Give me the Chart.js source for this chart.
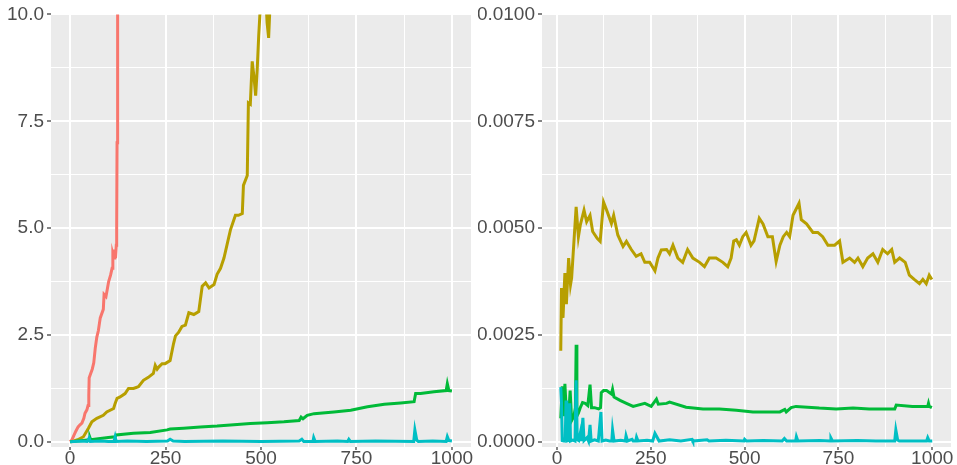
<!DOCTYPE html>
<html>
<head>
<meta charset="utf-8">
<script src="https://cdn.jsdelivr.net/npm/chart.js@4.4.1/dist/chart.umd.min.js"></script>
<style>
  html, body { margin: 0; padding: 0; background: #fff; }
  .panel { position: absolute; top: 0; height: 465px; }
  #leftBox { left: 0; width: 478px; }
  #rightBox { left: 478px; width: 479px; }
</style>
</head>
<body>
<div id="leftBox" class="panel"><canvas id="leftChart"></canvas></div>
<div id="rightBox" class="panel"><canvas id="rightChart"></canvas></div>
<script>
// colours (ggplot hue palette)
var colRed = '#F8766D', colOlive = '#B79F00', colGreen = '#00BA38', colCyan = '#00BFC4';

// tick values
var xTicks = [0, 125, 250, 375, 500, 625, 750, 875, 1000];
var leftYTicks = [0, 1.25, 2.5, 3.75, 5, 6.25, 7.5, 8.75, 10];
var rightYTicks = [0, 0.00125, 0.0025, 0.00375, 0.005, 0.00625, 0.0075, 0.00875, 0.01];

// left panel series [x, y]
var leftRed = [[0,0],[5,0.05],[10,0.15],[15,0.25],[21,0.35],[26,0.4],[31,0.44],[36,0.55],[39,0.67],[44,0.75],[47,0.85],[49,1.1],[50,1.5],[54,1.6],[58,1.7],[62,1.85],[66,2.2],[70,2.45],[74,2.6],[79,2.9],[83,3.0],[87,3.1],[89,3.45],[94,3.4],[98,3.6],[101,3.75],[106,3.9],[110,4.06],[112,4.4],[115,4.3],[117,4.5],[119,4.3],[121,4.6],[122,5.0],[123,7],[124,9.9],[125,10.5],[127,12]];
var leftOlive = [[0,0],[10,0.02],[20,0.05],[35,0.12],[48,0.32],[57,0.47],[70,0.55],[87,0.62],[96,0.7],[114,0.78],[118,0.9],[123,1.02],[131,1.05],[144,1.13],[153,1.25],[166,1.25],[179,1.29],[192,1.44],[205,1.51],[218,1.6],[223,1.79],[228,1.7],[232,1.75],[241,1.83],[249,1.83],[262,1.9],[271,2.3],[276,2.48],[284,2.56],[293,2.7],[302,2.73],[311,3.02],[324,2.98],[337,3.05],[346,3.64],[355,3.72],[364,3.6],[377,3.68],[385,3.92],[394,4.06],[403,4.3],[412,4.65],[420,4.96],[433,5.3],[441,5.3],[451,5.34],[454,6.0],[464,6.23],[467,7.93],[472,7.9],[477,8.9],[482,8.5],[486,8.1],[490,8.7],[494,9.5],[499,10.3],[505,11],[512,10.5],[516,9.8],[520,9.45],[525,10.5],[530,11.5]];
var leftGreen = [[0,0],[20,0.02],[40,0.04],[50,0.05],[52,0.1],[54,0.05],[79,0.08],[100,0.1],[118,0.12],[121,0.16],[166,0.2],[210,0.22],[254,0.28],[262,0.3],[297,0.32],[341,0.35],[385,0.37],[429,0.4],[472,0.43],[516,0.45],[560,0.47],[600,0.5],[605,0.58],[610,0.54],[621,0.62],[639,0.66],[691,0.7],[735,0.74],[779,0.82],[823,0.88],[866,0.91],[901,0.94],[905,1.13],[918,1.13],[953,1.17],[985,1.2],[988,1.36],[992,1.2],[1000,1.19]];
var leftCyan = [[0,0],[10,0.01],[30,0.02],[45,0.01],[50,0.09],[53,0.01],[80,0.02],[100,0.01],[115,0.01],[118,0.12],[121,0.01],[150,0.02],[200,0.01],[255,0.02],[262,0.06],[270,0.02],[300,0.01],[400,0.02],[500,0.01],[600,0.02],[607,0.06],[612,0.01],[636,0.01],[638,0.1],[642,0.01],[700,0.02],[727,0.01],[730,0.06],[734,0.01],[800,0.02],[900,0.01],[903,0.28],[908,0.04],[912,0.01],[950,0.02],[985,0.01],[988,0.12],[992,0.03],[1000,0.02]];

// right panel series [x, y]
var rightOlive = [[10,0.00213],[12,0.0036],[16,0.0029],[21,0.00395],[25,0.00322],[31,0.0043],[36,0.00368],[39,0.00384],[51,0.0055],[57,0.0048],[62,0.00507],[72,0.00542],[79,0.00515],[88,0.0053],[95,0.00492],[107,0.00476],[115,0.00469],[124,0.00561],[134,0.00538],[145,0.00511],[151,0.0053],[162,0.00484],[176,0.00457],[185,0.00469],[198,0.0045],[211,0.00434],[224,0.0044],[234,0.0042],[247,0.0042],[261,0.004],[269,0.0043],[278,0.00449],[292,0.0045],[300,0.0044],[309,0.0046],[322,0.0043],[335,0.0042],[348,0.0045],[362,0.0043],[380,0.0042],[393,0.0041],[406,0.0043],[424,0.0043],[442,0.0042],[455,0.0041],[464,0.0043],[471,0.0047],[478,0.00473],[486,0.0046],[495,0.0048],[504,0.0049],[517,0.0046],[525,0.0047],[539,0.00523],[549,0.0051],[562,0.0048],[574,0.0048],[584,0.00422],[594,0.0046],[603,0.0048],[612,0.0049],[620,0.0048],[629,0.0053],[645,0.00558],[651,0.0052],[665,0.0051],[682,0.0049],[695,0.0049],[708,0.0048],[722,0.0046],[740,0.0046],[753,0.0047],[762,0.0042],[780,0.0043],[793,0.0042],[802,0.0043],[815,0.0041],[828,0.0043],[842,0.0044],[855,0.0042],[868,0.0045],[881,0.0044],[892,0.0045],[900,0.0042],[913,0.0043],[928,0.0042],[939,0.0039],[952,0.0038],[966,0.0037],[975,0.0038],[984,0.0037],[992,0.0039],[999,0.0038]];
var rightGreen = [[10,0.00055],[14,0.0013],[18,0.0006],[21,0.00136],[26,0.0005],[31,0.0006],[35,0.0012],[39,0.0005],[45,0.0006],[49,0.0008],[51,0.00227],[53,0.0006],[57,0.00067],[62,0.0008],[68,0.00092],[75,0.0009],[82,0.00085],[88,0.00134],[92,0.0008],[100,0.0008],[111,0.00077],[116,0.0008],[118,0.00115],[124,0.0012],[132,0.0012],[145,0.00112],[148,0.00123],[152,0.00105],[168,0.00097],[185,0.0009],[203,0.00083],[234,0.0009],[251,0.00083],[265,0.001],[270,0.00088],[292,0.0009],[300,0.00093],[344,0.00081],[389,0.00077],[433,0.00077],[478,0.00074],[522,0.0007],[566,0.0007],[594,0.0007],[607,0.00076],[611,0.0007],[624,0.0008],[637,0.00083],[699,0.00079],[744,0.00077],[789,0.00079],[832,0.00077],[900,0.00077],[904,0.00086],[947,0.00083],[988,0.00083],[990,0.0009],[992,0.00083],[999,0.0008]];
var rightCyan = [[10,0.00128],[12,0.0009],[14,0.00003],[18,0.00002],[22,0.0001],[24,0.00097],[26,0.00002],[30,0.00003],[34,0.0009],[36,0.00002],[42,0.00004],[48,0.00002],[51,0.00144],[54,0.00005],[58,0.00003],[62,0.0002],[64,0.00002],[69,0.00056],[72,0.00003],[80,0.0001],[84,0.00002],[88,0.0004],[91,0.00002],[100,0.00005],[110,0.00002],[117,0.0007],[120,0.00002],[130,0.00004],[140,0.00002],[146,0.00002],[148,0.00028],[152,0.00002],[170,0.00004],[182,0.00002],[184,0.00014],[188,0.00002],[200,0.00006],[203,0.00002],[210,0.00002],[212,0.00011],[216,0.00002],[240,0.00004],[255,0.00002],[261,0.0002],[266,0.00012],[272,0.00002],[300,0.00005],[330,0.00002],[360,0.00006],[362,0.00002],[400,0.00005],[405,0.00002],[450,0.00004],[498,0.00002],[500,0.00006],[505,0.00002],[550,0.00003],[600,0.00002],[606,0.00008],[612,0.00002],[636,0.00002],[638,0.00012],[642,0.00002],[700,0.00003],[728,0.00002],[730,0.00009],[734,0.00002],[800,0.00003],[850,0.00002],[900,0.00002],[903,0.00028],[908,0.00004],[912,0.00002],[950,0.00002],[985,0.00002],[988,0.0001],[992,0.00002],[1000,0.00002]];

Chart.defaults.font.family = "'Liberation Sans', Arial, Helvetica, sans-serif";
Chart.defaults.font.size = 19;
Chart.defaults.color = '#4D4D4D';
Chart.defaults.animation = false;

// grey panel behind the grid
var panelBg = {
  id: 'panelBg',
  beforeDraw: function (chart) {
    var a = chart.chartArea, c = chart.ctx;
    c.save();
    c.fillStyle = '#EBEBEB';
    c.fillRect(a.left, a.top, a.right - a.left, a.bottom - a.top);
    c.restore();
  }
};

function toPoints(arr) {
  return arr.map(function (p) { return { x: p[0], y: p[1] }; });
}

function line(arr, col, order) {
  return {
    data: toPoints(arr),
    borderColor: col,
    borderWidth: 3,
    pointRadius: 0,
    tension: 0,
    clip: 0,
    order: order
  };
}

function isMajor(v, step) {
  return Math.abs(v / step - Math.round(v / step)) < 1e-6;
}

function makeChart(el, datasets, yTicks, yMin, yMax, yStep, yDigits, yWidth, xMin, padRight) {
  return new Chart(document.getElementById(el), {
    type: 'line',
    data: { datasets: datasets },
    plugins: [panelBg],
    options: {
      responsive: true,
      maintainAspectRatio: false,
      layout: { padding: { top: 11, right: padRight, bottom: 0, left: 0 } },
      plugins: { legend: { display: false }, tooltip: { enabled: false } },
      scales: {
        x: {
          type: 'linear',
          min: xMin,
          max: 1050,
          afterBuildTicks: function (s) { s.ticks = xTicks.map(function (v) { return { value: v }; }); },
          afterFit: function (s) { s.height = 18; },
          border: { display: false },
          grid: {
            color: '#FFFFFF',
            lineWidth: function (c) { return isMajor(c.tick.value, 250) ? 2 : 1; },
            tickLength: 3,
            tickWidth: 1.2,
            tickColor: function (c) { return isMajor(c.tick.value, 250) ? '#333333' : 'rgba(0,0,0,0)'; }
          },
          ticks: {
            padding: -3,
            maxRotation: 0,
            autoSkip: false,
            callback: function (v) { return isMajor(v, 250) ? String(v) : ''; }
          }
        },
        y: {
          type: 'linear',
          min: yMin,
          max: yMax,
          afterBuildTicks: function (s) { s.ticks = yTicks.map(function (v) { return { value: v }; }); },
          afterFit: function (s) { s.width = yWidth; },
          border: { display: false },
          grid: {
            color: '#FFFFFF',
            lineWidth: function (c) { return isMajor(c.tick.value, yStep) ? 2 : 1; },
            tickLength: 4,
            tickWidth: 1.2,
            tickColor: function (c) { return isMajor(c.tick.value, yStep) ? '#333333' : 'rgba(0,0,0,0)'; }
          },
          ticks: {
            padding: 3,
            autoSkip: false,
            callback: function (v) { return isMajor(v, yStep) ? v.toFixed(yDigits) : ''; }
          }
        }
      }
    }
  });
}

makeChart('leftChart', [
  line(leftRed, colRed, 4),
  line(leftOlive, colOlive, 3),
  line(leftGreen, colGreen, 2),
  line(leftCyan, colCyan, 1)
], leftYTicks, -0.12, 10, 2.5, 1, 51, -50, 7);

makeChart('rightChart', [
  line(rightOlive, colOlive, 3),
  line(rightGreen, colGreen, 2),
  line(rightCyan, colCyan, 1)
], rightYTicks, -0.00012, 0.01, 0.0025, 4, 64, -40, 6);
</script>
</body>
</html>
